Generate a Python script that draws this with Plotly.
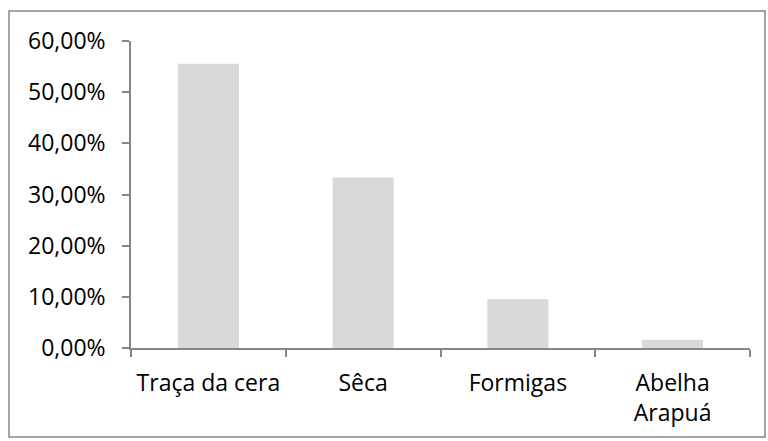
import plotly.graph_objects as go

categories = ["Traça da cera", "Sêca", "Formigas", "Abelha<br>Arapuá"]
values = [55.56, 33.33, 9.52, 1.59]
y_ticks = [0, 10, 20, 30, 40, 50, 60]
y_tick_labels = ["0,00%", "10,00%", "20,00%", "30,00%", "40,00%", "50,00%", "60,00%"]

fig = go.Figure(go.Bar(x=categories, y=values, marker=dict(color="#D9D9D9", line=dict(width=0))))

font = dict(family="Open Sans, Liberation Sans, sans-serif", size=23, color="#000000")

fig.update_layout(
    width=768, height=441,
    margin=dict(l=131, r=18, t=41, b=93),
    paper_bgcolor="white", plot_bgcolor="white",
    bargap=0.606,
    showlegend=False,
    font=font,
    shapes=[dict(type="rect", xref="paper", yref="paper",
                 x0=(9 - 131) / 619, x1=(765 - 131) / 619,
                 y0=(348 - 437) / 307, y1=(348 - 11) / 307,
                 line=dict(color="#868686", width=1.5), fillcolor="rgba(0,0,0,0)", layer="below")],
)
fig.update_yaxes(range=[0, 60], tickvals=y_ticks, ticktext=y_tick_labels,
                 showgrid=False, zeroline=False, showline=True, linecolor="#868686", linewidth=1.5,
                 ticks="outside", ticklen=7, tickcolor="#868686", tickwidth=1.5,
                 ticklabelstandoff=12, tickfont=font)
fig.update_xaxes(showgrid=False, showline=True, linecolor="#868686", linewidth=1.5,
                 ticks="outside", tickson="boundaries", ticklen=7, tickcolor="#868686", tickwidth=1.5,
                 ticklabelstandoff=14, tickfont=font)

fig.write_html("out.html", config={"displayModeBar": False},
               post_script="document.body.style.margin='0';")
